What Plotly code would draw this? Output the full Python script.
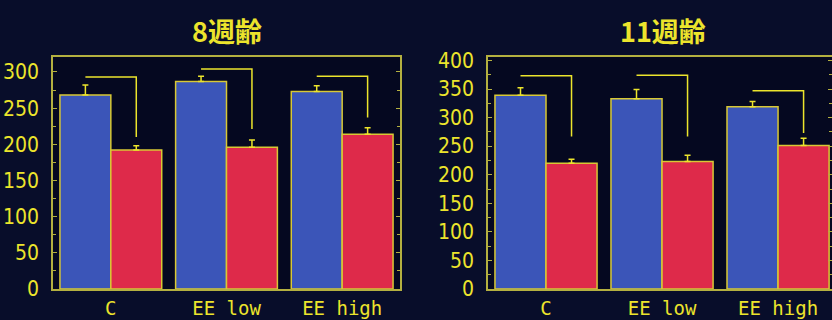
import plotly.graph_objects as go
from plotly.subplots import make_subplots

# Categories and measured values
categories = ["C", "EE low", "EE high"]
tick_text = ["C", "EE low", "EE high"]

# 8-week panel
wk8_blue = [268, 287, 273]
wk8_blue_err = [14, 7, 8]
wk8_red = [192, 196, 214]
wk8_red_err = [6, 10, 9]
wk8_bracket_top = [293, 304, 294]
wk8_bracket_bottom = [210, 221, 237]

# 11-week panel
wk11_blue = [339, 333, 319]
wk11_blue_err = [13, 16, 9]
wk11_red = [220, 223, 251]
wk11_red_err = [7, 11, 13]
wk11_bracket_top = [373, 374, 347]
wk11_bracket_bottom = [267, 267, 273]

titles = ["8週齢", "11週齢"]

YELLOW = "#ece42c"
AXIS = "#b4b040"
BLUE = "#3b55b8"
RED = "#de2a4a"
OUTLINE = "#d8c834"
PAPER = "#080d2a"
PLOT = "#050820"

W, H = 832, 320

fig = make_subplots(rows=1, cols=2)

xpos = list(range(len(categories)))


def add_panel(col, blue, blue_err, red, red_err):
    for vals, errs, color in ((blue, blue_err, BLUE), (red, red_err, RED)):
        fig.add_trace(
            go.Bar(
                x=xpos,
                y=vals,
                marker=dict(color=color, line=dict(color=OUTLINE, width=1.5)),
                error_y=dict(
                    type="data",
                    array=errs,
                    arrayminus=[0] * len(errs),
                    symmetric=False,
                    color=YELLOW,
                    thickness=1.5,
                    width=3,
                ),
                showlegend=False,
            ),
            row=1,
            col=col,
        )


add_panel(1, wk8_blue, wk8_blue_err, wk8_red, wk8_red_err)
add_panel(2, wk11_blue, wk11_blue_err, wk11_red, wk11_red_err)

# Significance brackets: from blue bar centre across to red bar centre, then down
half = 0.22
for xref, yref, tops, bottoms in (
    ("x", "y", wk8_bracket_top, wk8_bracket_bottom),
    ("x2", "y2", wk11_bracket_top, wk11_bracket_bottom),
):
    for i, (t, b) in enumerate(zip(tops, bottoms)):
        fig.add_shape(
            type="path",
            path=f"M {i - half},{t} L {i + half},{t} L {i + half},{b}",
            xref=xref,
            yref=yref,
            line=dict(color=YELLOW, width=1.5),
        )

# Panel geometry in pixels
left_x = (53, 400)
right_x = (488, 832)
y_px = (57, 289)

ytick_font = dict(family="DejaVu Sans Condensed, DejaVu Sans, sans-serif",
                  size=21, color=YELLOW)
xtick_font = dict(family="DejaVu Sans Mono, monospace", size=19, color=YELLOW)

common_x = dict(
    tickmode="array",
    tickvals=xpos,
    ticktext=tick_text,
    ticks="",
    showgrid=False,
    zeroline=False,
    showline=True,
    linecolor=AXIS,
    linewidth=1.5,
    mirror=True,
    tickfont=xtick_font,
    ticklabelstandoff=1,
    automargin=False,
)
common_y = dict(
    dtick=50,
    ticks="inside",
    ticklen=4,
    tickcolor=AXIS,
    minor=dict(dtick=25, ticks="inside", ticklen=3, tickcolor=AXIS),
    showgrid=False,
    zeroline=False,
    showline=True,
    linecolor=AXIS,
    linewidth=1.5,
    mirror="ticks",
    tickfont=ytick_font,
    ticklabelstandoff=8,
    automargin=False,
)

fig.update_layout(
    width=W,
    height=H,
    margin=dict(l=0, r=0, t=0, b=0),
    paper_bgcolor=PAPER,
    plot_bgcolor=PLOT,
    barmode="group",
    bargap=0.12,
    bargroupgap=0,
    xaxis=dict(common_x, domain=[left_x[0] / W, left_x[1] / W], range=[-0.5, 2.5]),
    xaxis2=dict(common_x, domain=[right_x[0] / W, 1.0], range=[-0.5, 2.465]),
    yaxis=dict(common_y, domain=[1 - y_px[1] / H, 1 - y_px[0] / H], range=[0, 320.7]),
    yaxis2=dict(common_y, domain=[1 - y_px[1] / H, 1 - y_px[0] / H], range=[0, 406]),
)

# Panel titles
for cx, text in zip((227, 663), titles):
    fig.add_annotation(
        x=cx / W,
        y=1 - 30 / H,
        xref="paper",
        yref="paper",
        text=text,
        showarrow=False,
        xanchor="center",
        yanchor="middle",
        font=dict(family="Noto Sans CJK JP, sans-serif", size=27, color=YELLOW,
                  weight="bold"),
    )

fig.write_html("out.html")
